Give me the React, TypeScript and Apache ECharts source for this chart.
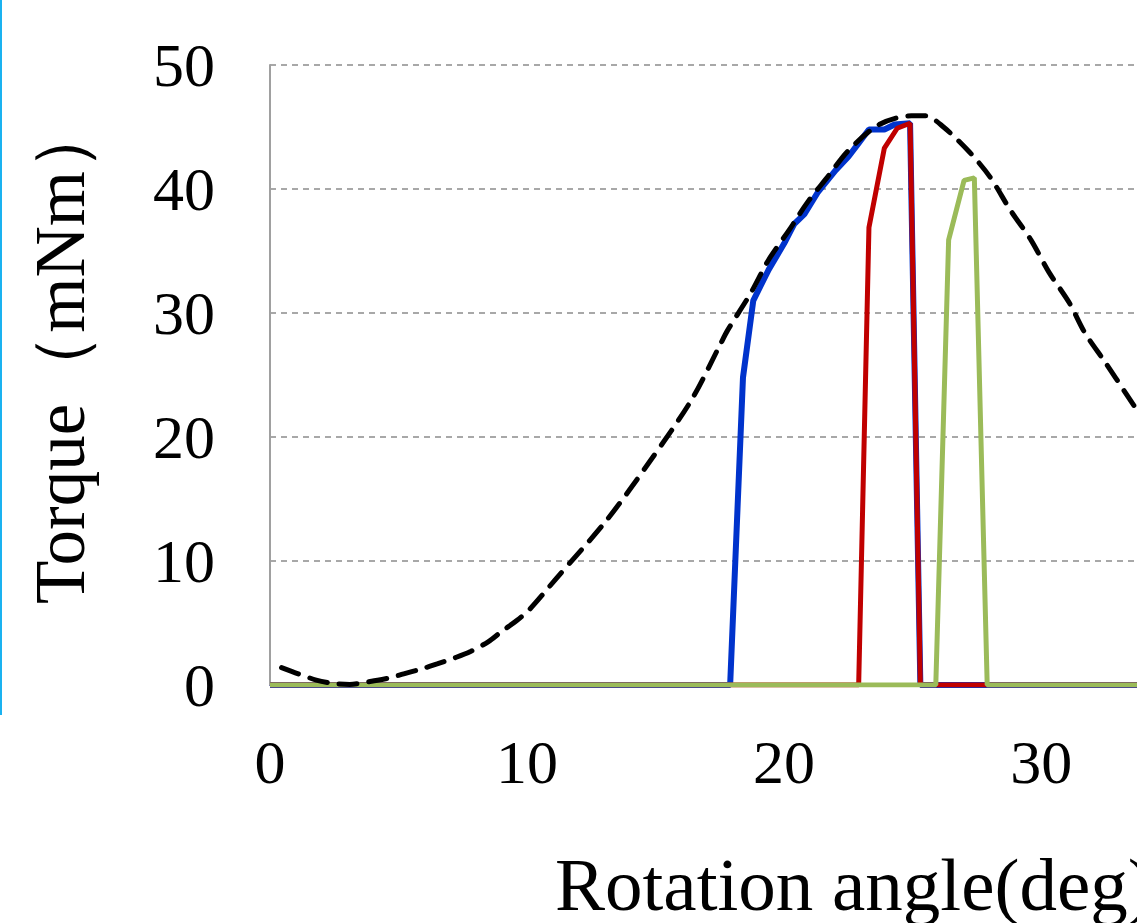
import React, { useEffect, useRef } from "react";
import * as echarts from "echarts";

const xTicks = [0, 10, 20, 30];
const xMax = 34;
const yTicks = [0, 10, 20, 30, 40, 50];
const xTitle = "Rotation angle(deg)";
const yTitle = "Torque（mNm）";

const theoryX = [0.45, 1.1, 1.8, 2.4, 3.1, 3.8, 4.6, 5.2, 5.9, 6.5, 7.2, 7.8, 8.5, 9.0, 9.6, 10.1, 11.1, 13.1, 14.8, 16.4, 17.5, 17.8, 18.7, 19.4, 20.2, 20.9, 21.7, 22.5, 23.7, 24.95, 25.5, 26.2, 27.2, 28.0, 28.8, 29.6, 30.3, 31.1, 31.7, 32.5, 33.3, 34.0];
const theoryY = [1.4, 0.9, 0.4, 0.15, 0.05, 0.25, 0.55, 0.9, 1.3, 1.7, 2.2, 2.7, 3.5, 4.3, 5.2, 6.1, 8.5, 13.3, 18.1, 23.0, 27.4, 28.6, 31.6, 34.3, 36.7, 38.9, 41.0, 43.1, 45.2, 45.9, 45.9, 45.0, 43.0, 41.0, 38.3, 35.9, 33.3, 30.8, 28.4, 26.0, 23.5, 21.3];

const blueX = [0, 17.9, 18.4, 18.8, 19.4, 20.0, 20.4, 20.8, 21.3, 22.0, 22.5, 22.9, 23.3, 23.9, 24.3, 24.9, 25.3, 34];
const blueY = [0, 0, 24.8, 31.0, 33.5, 35.6, 37.2, 38.0, 39.7, 41.5, 42.6, 43.7, 44.8, 44.8, 45.2, 45.3, 0, 0];

const redX = [0, 22.9, 23.3, 23.9, 24.4, 24.9, 25.3, 34];
const redY = [0, 0, 36.9, 43.3, 44.9, 45.3, 0, 0];

const greenX = [0, 25.9, 26.4, 27.0, 27.4, 27.9, 34];
const greenY = [0, 0, 35.9, 40.7, 40.9, 0, 0];

const zip = (xs: number[], ys: number[]) => xs.map((x, i) => [x, ys[i]]);

export default function App() {
  const ref = useRef<HTMLDivElement>(null);
  useEffect(() => {
    if (!ref.current) return;
    const chart = echarts.init(ref.current, undefined, { renderer: "svg" });
    const font = "'Liberation Serif', 'Times New Roman', serif";
    chart.setOption({
      animation: false,
      backgroundColor: "#ffffff",
      grid: { left: 270, top: 65, width: 874, height: 620, outerBoundsMode: "none", containLabel: false },
      xAxis: {
        type: "value",
        min: xTicks[0],
        max: xMax,
        interval: 10,
        axisLine: { show: true, lineStyle: { color: "#3a3aa0", width: 1 } },
        axisTick: { show: false },
        splitLine: { show: false },
        axisLabel: { fontFamily: font, fontSize: 62, color: "#000", margin: 46, showMaxLabel: false },
      },
      yAxis: {
        type: "value",
        min: yTicks[0],
        max: yTicks[yTicks.length - 1],
        interval: 10,
        axisLine: { show: true, lineStyle: { color: "#a0a0a0", width: 2 } },
        axisTick: { show: false },
        splitLine: { show: true, lineStyle: { color: "#8c8c8c", width: 1.5, type: [6, 5] } },
        axisLabel: { fontFamily: font, fontSize: 62, color: "#000", margin: 55 },
      },
      graphic: [
        { type: "rect", shape: { x: 0, y: 0, width: 2, height: 715 }, style: { fill: "#1ab2f0" } },
        {
          type: "text",
          x: 555,
          y: 884,
          style: {
            text: xTitle,
            fontFamily: font,
            fontSize: 75,
            fill: "#000",
            textAlign: "left",
            textVerticalAlign: "middle",
          },
        },
        {
          type: "text",
          x: 60,
          y: 352,
          rotation: Math.PI / 2,
          style: {
            text: yTitle,
            fontFamily: font,
            fontSize: 71,
            fill: "#000",
            textAlign: "center",
            textVerticalAlign: "middle",
          },
        },
      ],
      series: [
        {
          type: "line",
          data: zip(blueX, blueY),
          symbol: "none",
          lineStyle: { color: "#0033cc", width: 6 },
          z: 3,
        },
        {
          type: "line",
          data: zip(redX, redY),
          symbol: "none",
          lineStyle: { color: "#c00000", width: 5 },
          z: 4,
        },
        {
          type: "line",
          data: zip(greenX, greenY),
          symbol: "none",
          lineStyle: { color: "#9bbb59", width: 5 },
          z: 5,
        },
        {
          type: "line",
          data: zip(theoryX, theoryY),
          symbol: "none",
          smooth: 0.3,
          lineStyle: { color: "#000000", width: 5, type: [18, 12], cap: "round" },
          z: 6,
        },
      ],
    });
    return () => chart.dispose();
  }, []);
  return (
    <div
      ref={ref}
      style={{ position: "fixed", left: 0, top: 0, width: 1150, height: 923, background: "#fff" }}
    />
  );
}
